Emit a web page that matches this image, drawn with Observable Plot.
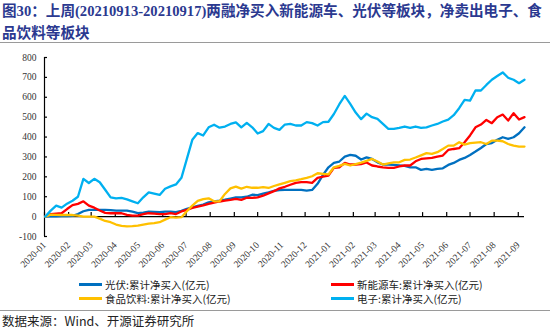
<!DOCTYPE html>
<html>
<head>
<meta charset="utf-8">
<script src="https://cdn.jsdelivr.net/npm/d3@7"></script>
<script src="https://cdn.jsdelivr.net/npm/@observablehq/plot@0.6"></script>
<style>
  html, body { margin: 0; padding: 0; background: #fff; }
  #wrap { width: 550px; height: 330px; position: relative; overflow: hidden; font-family: "Liberation Serif", "Noto Sans CJK SC", serif; }
  .title { position: absolute; left: 2px; top: 0; width: 548px; color: #2B3990; font-weight: bold; font-size: 14.6px; line-height: 22px; font-family: "Liberation Serif", "Noto Sans CJK SC", serif; white-space: nowrap; }
  .rule1 { position: absolute; left: 0; top: 42px; width: 550px; height: 0; border-top: 1.5px solid #9a9a9a; }
  #chart { position: absolute; left: 0; top: 44px; }
  .legend { position: absolute; left: 0; top: 278px; width: 550px; font-size: 10.5px; line-height: 13px; color: #222; font-family: "Noto Sans CJK SC", sans-serif; }
  .li { position: absolute; display: flex; align-items: center; height: 13px; line-height: 13px; white-space: nowrap; }
  .sw { width: 23px; height: 3px; margin-right: 3px; }
  .rule2 { position: absolute; left: 0; top: 310px; width: 550px; height: 0; border-top: 1.5px solid #9a9a9a; }
  .caption { position: absolute; left: 2px; top: 314px; font-size: 12.5px; line-height: 14px; color: #222; font-family: "Noto Sans CJK SC", sans-serif; white-space: nowrap; }
</style>
</head>
<body>
<div id="wrap">
  <div class="title">图30：上周(20210913-20210917)两融净买入新能源车、光伏等板块，净卖出电子、食<br>品饮料等板块</div>
  <div class="rule1"></div>
  <div id="chart"></div>
  <div class="legend" id="legend"></div>
  <div class="rule2"></div>
  <div class="caption">数据来源：Wind、开源证券研究所</div>
</div>
<script>
// ---- data (weekly) ----
const startDate = "2020-01-02";
const axisStart = "2020-01-01";
const axisEnd = "2021-09-09";
const seriesNames = ["光伏:累计净买入(亿元)", "新能源车:累计净买入(亿元)", "食品饮料:累计净买入(亿元)", "电子:累计净买入(亿元)"];
const seriesColors = ["#0070C0", "#FF0000", "#FFC000", "#00B0F0"];

const pv = [0,1,1,2,2,4,13,27,34,34,34,34,33,30,30,30,25,18,20,25,24,22,25,25,
  22,29,39,47,54,60,72,76,80,85,91,97,97,100,110,108,115,122,130,133,134,134,134,
  134,131,134,165,210,248,270,277,302,310,306,287,298,290,273,262,262,260,258,255,248,248,
  235,240,235,240,243,260,270,285,295,310,327,345,365,370,386,399,391,399,419,449];
const nev = [0,13,15,17,38,58,64,77,55,45,31,19,17,17,17,9,5,5,13,17,15,13,13,17,
  13,26,34,44,50,56,64,70,76,80,84,89,84,95,94,97,105,117,128,142,150,160,170,
  173,173,170,195,201,206,245,248,270,262,262,264,272,257,252,248,245,245,252,257,257,278,
  290,293,295,302,307,335,340,344,374,408,449,463,486,470,500,513,483,520,488,500];
const food = [0,10,9,8,8,8,5,0,0,0,-10,-22,-28,-40,-47,-49,-48,-45,-40,-35,-33,-28,-15,-3,
  -5,-3,27,55,79,88,92,77,77,114,142,151,141,150,145,145,148,144,154,162,170,178,182,
  188,195,203,218,215,212,248,255,265,257,264,271,280,290,277,262,268,273,273,285,287,297,
  308,319,315,324,340,357,357,374,362,369,372,374,365,382,382,379,365,357,352,352];
const elec = [0,30,55,45,65,80,100,190,169,190,173,135,97,92,94,87,77,67,97,122,116,109,140,152,
  162,195,290,386,420,408,449,462,447,453,466,474,449,471,449,418,430,466,446,436,463,466,458,
  458,475,470,458,475,477,516,565,607,567,523,490,518,500,491,466,441,441,446,453,446,453,
  446,449,458,466,478,488,510,545,587,583,634,634,662,688,707,725,698,688,671,688];
const yTicks = [-100,0,100,200,300,400,500,600,700,800];

// ---- build table ----
const allSeries = [pv, nev, food, elec];
const t0 = new Date(startDate + "T00:00:00Z");
const dates = pv.map((_, i) => d3.utcDay.offset(t0, 7 * i));
const rows = [];
allSeries.forEach((vals, s) => vals.forEach((v, i) => rows.push({date: dates[i], value: v, series: seriesNames[s]})));

const x0 = new Date(axisStart + "T00:00:00Z");
const x1 = new Date(axisEnd + "T00:00:00Z");
const monthTicks = d3.utcMonth.range(x0, d3.utcDay.offset(x1, 1));
const fmt = d3.utcFormat("%Y-%m");

const chart = Plot.plot({
  width: 550,
  height: 232,
  marginLeft: 44,
  marginRight: 26,
  marginTop: 13,
  marginBottom: 40,
  style: {fontFamily: "'Liberation Serif', 'Times New Roman', serif", fontSize: "9.5px", color: "#333", background: "transparent"},
  x: {type: "utc", domain: [x0, x1]},
  y: {domain: [-100, 800]},
  color: {domain: seriesNames, range: seriesColors},
  marks: [
    Plot.axisY({ticks: yTicks, tickSize: 0, tickPadding: 8, label: null, tickFormat: d => String(d)}),
    Plot.axisX({ticks: monthTicks, tickSize: 0, tickPadding: 7, tickRotate: -45, label: null, tickFormat: fmt}),
    Plot.ruleX([x0], {y1: -100, y2: 800, stroke: "#000", strokeWidth: 1.2}),
    Plot.ruleY(yTicks, {x1: () => x0, x2: () => x0, insetRight: -3, stroke: "#000", strokeWidth: 1.2}),
    Plot.ruleY([0], {stroke: "#000", strokeWidth: 1.2}),
    Plot.ruleX(monthTicks, {y1: () => 0, y2: () => 0, insetTop: -4, stroke: "#000", strokeWidth: 1.2}),
    Plot.line(rows, {x: "date", y: "value", z: "series", stroke: "series", strokeWidth: 2.3, strokeLinejoin: "round"})
  ]
});
document.getElementById("chart").appendChild(chart);

// ---- legend ----
const legendPos = [[79, 0], [331, 0], [79, 14], [331, 14]];
const legend = document.getElementById("legend");
seriesNames.forEach((name, i) => {
  const el = document.createElement("div");
  el.className = "li";
  el.style.left = legendPos[i][0] + "px";
  el.style.top = legendPos[i][1] + "px";
  el.innerHTML = `<span class="sw" style="background:${seriesColors[i]}"></span><span>${name}</span>`;
  legend.appendChild(el);
});
</script>
</body>
</html>
